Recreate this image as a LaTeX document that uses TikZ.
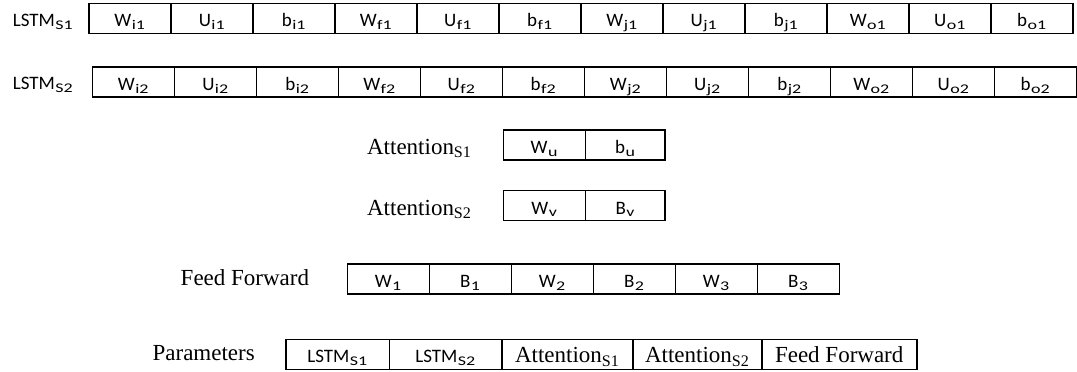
\documentclass[tikz,border=0pt]{standalone}
\usepackage{fontspec}
\setmainfont{Liberation Serif}
\newfontfamily\calibri{Carlito}
\newcommand\subs[1]{\textsubscript{\kern0.5pt\scalebox{1.35}[1]{#1}}}
\begin{document}
\begin{tikzpicture}[x=1pt,y=1pt]
\tikzset{cell/.style={draw=black,line width=1.6pt,minimum width=82pt,minimum height=30pt,inner sep=0pt,text height=17pt,text depth=0pt,font=\calibri\fontsize{19}{23}\selectfont},
tcell/.style={cell,font=\fontsize{23}{27}\selectfont},
rowlabel/.style={anchor=base east,inner sep=0pt,font=\calibri\fontsize{19}{23}\selectfont},
trowlabel/.style={rowlabel,font=\fontsize{23}{27}\selectfont}}
\useasboundingbox (0,0) rectangle (1077,-372);
% LSTM S1
\node [rowlabel] (lstmA) at (73.5,-26.7) {LSTM\subs{S1}};
\node [cell] (wi1) at (130,-18.3) {W\subs{i1}};
\node [cell] (ui1) at (212,-18.3) {U\subs{i1}};
\node [cell] (bi1) at (294,-18.3) {b\subs{i1}};
\node [cell] (wf1) at (376,-18.3) {W\subs{f1}};
\node [cell] (uf1) at (458,-18.3) {U\subs{f1}};
\node [cell] (bf1) at (540,-18.3) {b\subs{f1}};
\node [cell] (wj1) at (622,-18.3) {W\subs{j1}};
\node [cell] (uj1) at (704,-18.3) {U\subs{j1}};
\node [cell] (bj1) at (786,-18.3) {b\subs{j1}};
\node [cell] (wo1) at (868,-18.3) {W\subs{o1}};
\node [cell] (uo1) at (950,-18.3) {U\subs{o1}};
\node [cell] (bo1) at (1032,-18.3) {b\subs{o1}};
% LSTM S2
\node [rowlabel] (lstmB) at (73.5,-89.5) {LSTM\subs{S2}};
\node [cell] (wi2) at (133.5,-82.2) {W\subs{i2}};
\node [cell] (ui2) at (215.5,-82.2) {U\subs{i2}};
\node [cell] (bi2) at (297.5,-82.2) {b\subs{i2}};
\node [cell] (wf2) at (379.5,-82.2) {W\subs{f2}};
\node [cell] (uf2) at (461.5,-82.2) {U\subs{f2}};
\node [cell] (bf2) at (543.5,-82.2) {b\subs{f2}};
\node [cell] (wj2) at (625.5,-82.2) {W\subs{j2}};
\node [cell] (uj2) at (707.5,-82.2) {U\subs{j2}};
\node [cell] (bj2) at (789.5,-82.2) {b\subs{j2}};
\node [cell] (wo2) at (871.5,-82.2) {W\subs{o2}};
\node [cell] (uo2) at (953.5,-82.2) {U\subs{o2}};
\node [cell] (bo2) at (1035.5,-82.2) {b\subs{o2}};
% attention
\node [trowlabel] (attA) at (471.7,-154) {Attention\textsubscript{S1}};
\node [cell,minimum width=82.2pt] (wu) at (544.4,-145) {W\subs{u}};
\node [cell,minimum width=79.5pt] (bu) at (625.3,-145) {b\subs{u}};
\node [trowlabel] (attB) at (471.7,-215) {Attention\textsubscript{S2}};
\node [cell,minimum width=82.2pt] (wv) at (544.4,-205.5) {W\subs{v}};
\node [cell,minimum width=79.5pt] (bv) at (625.3,-205.5) {B\subs{v}};
% feed forward
\node [trowlabel] (ff) at (309.3,-285) {Feed Forward};
\node [cell] (w1) at (388.3,-279) {W\subs{1}};
\node [cell] (b1) at (470.3,-279) {B\subs{1}};
\node [cell] (w2) at (552.3,-279) {W\subs{2}};
\node [cell] (b2) at (634.3,-279) {B\subs{2}};
\node [cell] (w3) at (716.3,-279) {W\subs{3}};
\node [cell] (b3) at (798.3,-279) {B\subs{3}};
% parameters
\node [trowlabel] (par) at (255,-360) {Parameters};
\node [cell,minimum width=103.6pt] (plstmA) at (337.5,-354.3) {LSTM\subs{S1}};
\node [cell,minimum width=112.4pt] (plstmB) at (445.5,-354.3) {LSTM\subs{S2}};
\node [tcell,minimum width=131pt] (pattA) at (567.2,-354.3) {Attention\textsubscript{S1}};
\node [tcell,minimum width=129pt] (pattB) at (697.2,-354.3) {Attention\textsubscript{S2}};
\node [tcell,minimum width=155pt] (pff) at (839.2,-354.3) {Feed Forward};
\end{tikzpicture}
\end{document}
